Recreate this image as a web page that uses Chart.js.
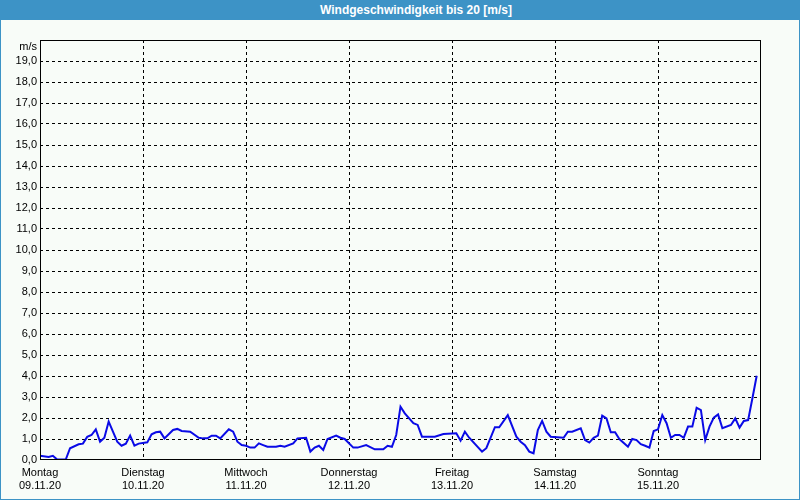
<!DOCTYPE html>
<html>
<head>
<meta charset="utf-8">
<script src="https://cdn.jsdelivr.net/npm/chart.js@4/dist/chart.umd.min.js"></script>
<style>
  html, body { margin: 0; padding: 0; background: #f8fcf8; }
  #wrap { position: relative; width: 800px; height: 500px; overflow: hidden; background: #f8fcf8; }
  #frame { position: absolute; left: 0; top: 0; width: 798px; height: 498px; border: 1px solid #3d93c6; box-sizing: content-box; pointer-events: none; }
  #title { position: absolute; left: 0; top: 0; width: 800px; height: 20px; background: #3d93c6; color: #ffffff;
           font: bold 12px "Liberation Sans", "DejaVu Sans", sans-serif; line-height: 20px; text-align: center;
           padding-left: 32px; box-sizing: border-box; }
  canvas { position: absolute; left: 0; top: 0; }
</style>
</head>
<body>
<div id="wrap">
  <canvas id="c" width="800" height="500"></canvas>
  <div id="title">Windgeschwindigkeit bis 20 [m/s]</div>
  <div id="frame"></div>
</div>
<script>
// Hours since Monday 09.11.20 00:00
const hours = [0,2,3,4,6,7,9,10,11,12,13,14,15,16,17,18,19,20,21,22,23,25,26,27,28,29,31,32,33,35,37,38,39,40,41,42,44,45,46,47,48,49,50,51,52,53,54,55,56,57,59,60,62,63,64,65,66,67,69,70,71,73,74,76,78,80,81,82,83,84,85,87,88,89,92,94,97,98,99,100,103,104,106,107,109,111,112,113,114,115,116,117,118,119,122,123,124,126,127,128,129,130,131,132,133,134,135,137,138,139,140,141,142,143,144,145,146,147,148,149,150,151,152,153,154,155,156,157,158,159,161,162,163,164,165,166,167];
const speed = [0.2,0.14,0.2,0.02,0.02,0.56,0.75,0.78,1.1,1.19,1.46,0.87,1.06,1.83,1.35,0.87,0.68,0.78,1.16,0.68,0.78,0.84,1.22,1.32,1.35,1.03,1.43,1.48,1.38,1.35,1.06,1.03,1.03,1.16,1.16,1.03,1.46,1.35,0.87,0.71,0.68,0.59,0.59,0.79,0.71,0.63,0.63,0.63,0.68,0.63,0.79,1.03,1.06,0.4,0.59,0.68,0.48,1.0,1.16,1.06,1.0,0.59,0.59,0.71,0.51,0.51,0.68,0.63,1.19,2.54,2.22,1.75,1.67,1.11,1.11,1.24,1.27,0.92,1.35,1.06,0.4,0.56,1.56,1.56,2.14,1.11,0.87,0.71,0.4,0.32,1.43,1.86,1.35,1.11,1.06,1.35,1.35,1.51,0.95,0.83,1.06,1.16,2.11,1.98,1.32,1.32,1.0,0.63,1.0,0.95,0.75,0.68,0.59,1.38,1.46,2.14,1.75,1.06,1.19,1.19,1.06,1.59,1.59,2.49,2.38,0.95,1.59,2.02,2.17,1.51,1.67,1.98,1.54,1.86,1.9,2.94,4.01];
const dayNames = ["Montag","Dienstag","Mittwoch","Donnerstag","Freitag","Samstag","Sonntag"];
const dayDates = ["09.11.20","10.11.20","11.11.20","12.11.20","13.11.20","14.11.20","15.11.20"];
const yUnit = "m/s";

const points = hours.map((h, i) => ({ x: h, y: speed[i] }));
const FONT = { family: '"Liberation Sans", "DejaVu Sans", sans-serif', size: 11 };

const framePlugin = {
  id: 'frame',
  afterDraw(chart) {
    const a = chart.chartArea, ctx = chart.ctx;
    ctx.save();
    ctx.strokeStyle = '#000';
    ctx.lineWidth = 1;
    ctx.setLineDash([]);
    ctx.strokeRect(Math.round(a.left) + 0.5, Math.round(a.top) + 0.5, Math.round(a.right - a.left) - 1, Math.round(a.bottom - a.top) - 1);
    ctx.fillStyle = '#000';
    ctx.font = '11px ' + FONT.family;
    ctx.textAlign = 'right';
    ctx.textBaseline = 'middle';
    ctx.fillText(yUnit, a.left - 3, a.top + 7);
    ctx.restore();
  }
};

new Chart(document.getElementById('c'), {
  type: 'line',
  data: {
    datasets: [{
      data: points,
      borderColor: '#0a0ae6',
      borderWidth: 2,
      pointRadius: 0,
      tension: 0,
      fill: false
    }]
  },
  options: {
    responsive: false,
    animation: false,
    events: [],
    layout: { padding: { left: 0, top: 40, right: 39, bottom: 0 } },
    plugins: { legend: { display: false }, tooltip: { enabled: false }, title: { display: false } },
    scales: {
      x: {
        type: 'linear',
        min: 0, max: 168,
        afterFit(s) { s.height = 40; },
        afterBuildTicks(s) { s.ticks = [0,24,48,72,96,120,144,168].map(v => ({ value: v })); },
        ticks: {
          stepSize: 24,
          autoSkip: false,
          maxRotation: 0,
          padding: 6,
          color: '#000',
          font: FONT,
          callback(v) { const i = Math.round(v / 24); return i < dayNames.length ? [dayNames[i], dayDates[i]] : ''; }
        },
        grid: {
          color: (ctx) => (ctx.tick && (ctx.tick.value <= 0 || ctx.tick.value >= 168)) ? 'rgba(0,0,0,0)' : '#000',
          lineWidth: 1, drawTicks: false
        },
        border: { display: false, dash: [3, 3] }
      },
      y: {
        min: 0, max: 20,
        afterFit(s) { s.width = 40; },
        ticks: {
          stepSize: 1,
          padding: 3,
          color: '#000',
          font: FONT,
          callback(v) { return v >= 20 ? '' : v.toFixed(1).replace('.', ','); }
        },
        grid: {
          color: (ctx) => (ctx.tick && (ctx.tick.value <= 0 || ctx.tick.value >= 20)) ? 'rgba(0,0,0,0)' : '#000',
          lineWidth: 1, drawTicks: false
        },
        border: { display: false, dash: [3, 3] }
      }
    }
  },
  plugins: [framePlugin]
});
</script>
</body>
</html>
